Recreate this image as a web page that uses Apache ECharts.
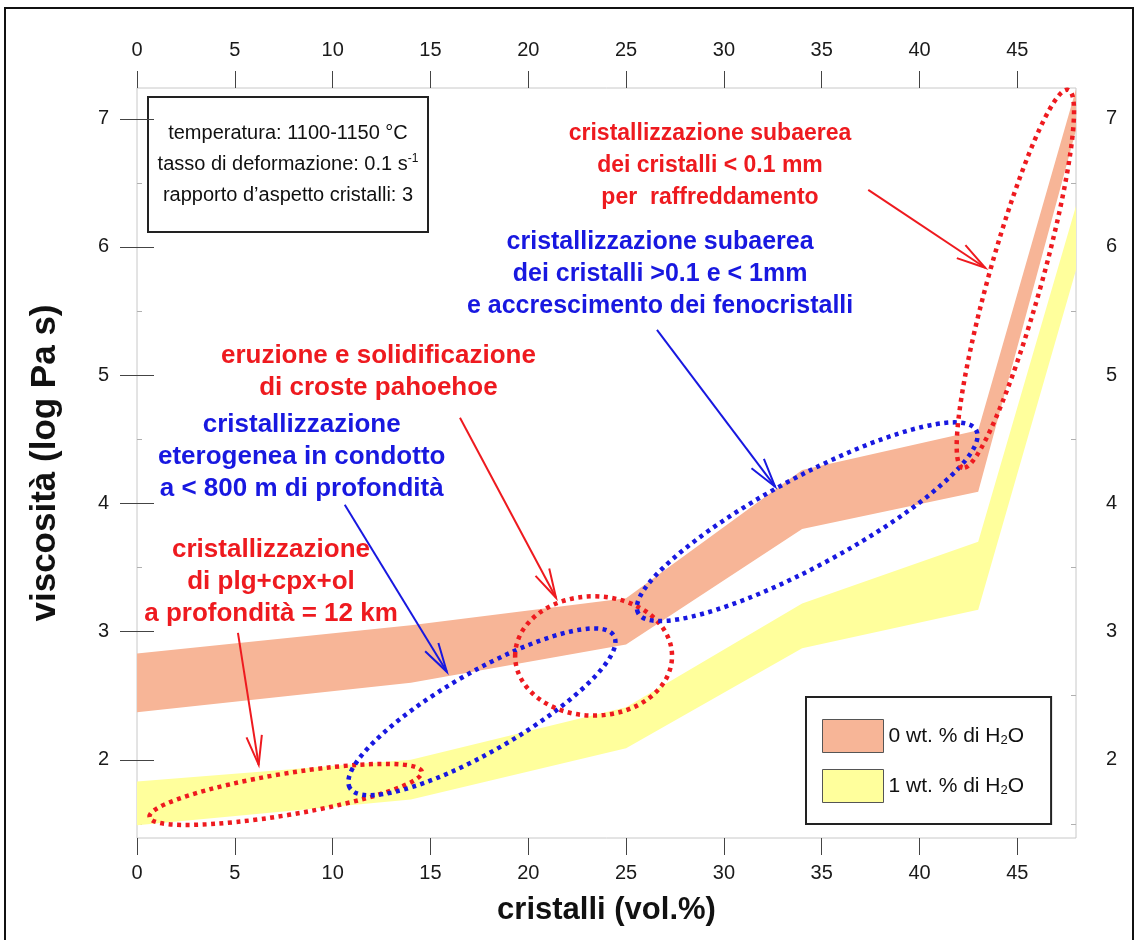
<!DOCTYPE html>
<html>
<head>
<meta charset="utf-8">
<script src="https://cdn.jsdelivr.net/npm/echarts@6/dist/echarts.min.js"></script>
<style>
  html, body { margin: 0; padding: 0; background: #ffffff; }
  #chart { width: 1140px; height: 940px; }
</style>
</head>
<body>
<div id="chart"></div>
<script>
// Axis ticks
const xTicks = [0, 5, 10, 15, 20, 25, 30, 35, 40, 45];
const yTicks = [2, 3, 4, 5, 6, 7];
const yMinorTicks = [1.5, 2.5, 3.5, 4.5, 5.5, 6.5];

// Viscosity bands (log Pa s) against crystal content (vol.%)
const crystalVol = [0, 14, 25, 34, 43, 48];
const dryUpper = [2.83, 3.05, 3.26, 4.26, 4.57, 7.23];
const dryLower = [2.37, 2.60, 2.90, 3.80, 4.09, 6.91];
const wetUpper = [1.83, 2.00, 2.41, 3.22, 3.70, 6.32];
const wetLower = [1.49, 1.69, 2.09, 2.87, 3.17, 5.82];
const bandNames = ['0 wt. % di H2O', '1 wt. % di H2O'];

// Dotted fields: centre, end of the long semi-axis, short/long axis ratio
const fieldCenters = [[7.6, 1.73], [17.63, 2.374], [23.34, 2.81], [34.26, 3.857], [44.9, 5.752]];
const fieldAxisEnds = [[14.56, 1.907], [24.38, 2.967], [27.35, 2.81], [42.9, 4.57], [47.6, 7.226]];
const fieldRatios = [0.15, 0.26, 0.76, 0.23, 0.135];
const fieldKinds = ['r', 'b', 'r', 'b', 'r'];

// Pointer arrows: start and tip
const arrowStarts = [[5.16, 2.99], [10.62, 3.989], [16.51, 4.668], [26.58, 5.354], [37.38, 6.446]];
const arrowTips = [[6.22, 1.961], [15.84, 2.686], [21.42, 3.264], [32.62, 4.13], [43.36, 5.838]];
const arrowKinds = ['r', 'b', 'r', 'b', 'r'];

// Process notes
const noteAnchors = [[29.29, 6.637], [26.74, 5.791], [12.34, 5.027], [8.42, 4.36], [6.85, 3.392]];
const noteTexts = [
  'cristallizzazione subaerea\ndei cristalli < 0.1 mm\nper  raffreddamento',
  'cristallizzazione subaerea\ndei cristalli >0.1 e < 1mm\ne accrescimento dei fenocristalli',
  'eruzione e solidificazione\ndi croste pahoehoe',
  'cristallizzazione\neterogenea in condotto\na < 800 m di profondità',
  'cristallizzazione\ndi plg+cpx+ol\na profondità = 12 km'
];
const noteKinds = ['r', 'b', 'r', 'b', 'r'];
const noteFontSizes = [23, 25, 26, 26, 26];

const COLORS = { r: '#ee1a1f', b: '#1818e0' };
const SALMON = '#f7b597';
const YELLOW = '#ffff9c';
const FONT = '"Liberation Sans", Arial, Helvetica, sans-serif';

const chart = echarts.init(document.getElementById('chart'), null, { renderer: 'canvas' });

function bandRenderer(upper, lower, color) {
  return function (params, api) {
    const top = crystalVol.map((x, i) => api.coord([x, upper[i]]));
    const bottom = crystalVol.map((x, i) => api.coord([x, lower[i]])).reverse();
    return { type: 'polygon', shape: { points: top.concat(bottom) }, style: { fill: color } };
  };
}

function renderField(params, api) {
  const i = params.dataIndex;
  const c = api.coord(fieldCenters[i]);
  const e = api.coord(fieldAxisEnds[i]);
  const dx = e[0] - c[0], dy = e[1] - c[1];
  const rx = Math.hypot(dx, dy);
  return {
    type: 'ellipse',
    x: c[0], y: c[1],
    rotation: -Math.atan2(dy, dx),
    shape: { cx: 0, cy: 0, rx: rx, ry: rx * fieldRatios[i] },
    style: { fill: null, stroke: COLORS[fieldKinds[i]], lineWidth: 4.5, lineDash: [4, 4.5] }
  };
}

function renderArrow(params, api) {
  const i = params.dataIndex;
  const s = api.coord(arrowStarts[i]);
  const t = api.coord(arrowTips[i]);
  const ang = Math.atan2(t[1] - s[1], t[0] - s[0]);
  const len = 30, half = 15 * Math.PI / 180;
  const w1 = [t[0] - len * Math.cos(ang - half), t[1] - len * Math.sin(ang - half)];
  const w2 = [t[0] - len * Math.cos(ang + half), t[1] - len * Math.sin(ang + half)];
  const stroke = COLORS[arrowKinds[i]];
  return {
    type: 'group',
    children: [
      { type: 'line', shape: { x1: s[0], y1: s[1], x2: t[0], y2: t[1] }, style: { stroke: stroke, lineWidth: 2 } },
      { type: 'polyline', shape: { points: [w1, t, w2] }, style: { stroke: stroke, lineWidth: 2, fill: null } }
    ]
  };
}

function renderNote(params, api) {
  const i = params.dataIndex;
  const p = api.coord(noteAnchors[i]);
  return {
    type: 'text',
    x: p[0], y: p[1],
    style: {
      text: noteTexts[i],
      fill: COLORS[noteKinds[i]],
      font: 'bold ' + noteFontSizes[i] + 'px ' + FONT,
      align: 'center',
      verticalAlign: 'middle',
      lineHeight: 32
    }
  };
}

const tickLabelStyle = { fontSize: 20, color: '#1a1a1a', fontFamily: FONT };

function xAxisDef(position, margin, withName) {
  const a = {
    type: 'value', position: position, min: 0, max: 48,
    axisLine: { show: false },
    splitLine: { show: false },
    axisTick: { show: true, customValues: xTicks, length: 17, lineStyle: { color: '#444', width: 1 } },
    axisLabel: Object.assign({ customValues: xTicks, margin: margin }, tickLabelStyle)
  };
  if (withName) {
    a.name = 'cristalli (vol.%)';
    a.nameLocation = 'middle';
    a.nameGap = 57;
    a.nameTextStyle = { fontSize: 31, fontWeight: 'bold', color: '#111', fontFamily: FONT };
  }
  return a;
}

function yAxisDef(position, margin, withName) {
  const a = {
    type: 'value', position: position, min: 1.39, max: 7.24,
    axisLine: { show: false },
    splitLine: { show: false },
    axisTick: { show: true, customValues: yTicks, length: 17, lineStyle: { color: '#444', width: 1 } },
    axisLabel: Object.assign({ customValues: yTicks, margin: margin }, tickLabelStyle)
  };
  if (withName) {
    a.name = 'viscosità (log Pa s)';
    a.nameLocation = 'middle';
    a.nameGap = 74;
    a.nameRotate = 90;
    a.nameTextStyle = { fontSize: 35, fontWeight: 'bold', color: '#111', fontFamily: FONT };
  }
  return a;
}

function yMinorDef(position) {
  return {
    type: 'value', position: position, min: 1.39, max: 7.24,
    axisLine: { show: false },
    splitLine: { show: false },
    axisLabel: { show: false },
    axisTick: { show: true, inside: true, customValues: yMinorTicks, length: 5, lineStyle: { color: '#b0b0b0', width: 1 } }
  };
}

const legendRich = {
  n: { fontSize: 21, color: '#111', fontFamily: FONT },
  s: { fontSize: 13, color: '#111', fontFamily: FONT, padding: [8, 0, 0, 0] }
};

const option = {
  animation: false,
  backgroundColor: '#ffffff',
  grid: {
    left: 137, right: 64, top: 88, bottom: 102,
    show: true, borderColor: '#c8c8c8', borderWidth: 1,
    outerBoundsMode: 'none', containLabel: false
  },
  xAxis: [xAxisDef('bottom', 25, true), xAxisDef('top', 28, false)],
  yAxis: [yAxisDef('left', 28, true), yAxisDef('right', 30, false), yMinorDef('left'), yMinorDef('right')],
  legend: {
    orient: 'vertical',
    left: 806, top: 697,
    padding: [22, 27, 21, 16],
    itemWidth: 61, itemHeight: 33, itemGap: 16,
    icon: 'rect',
    borderColor: '#222', borderWidth: 2, backgroundColor: '#ffffff',
    itemStyle: { borderColor: '#555', borderWidth: 1 },
    selectedMode: false,
    data: bandNames,
    formatter: function (name) {
      const parts = name.split('H2O');
      return '{n|' + parts[0] + 'H}{s|2}{n|O}';
    },
    textStyle: { rich: legendRich }
  },
  graphic: [
    {
      type: 'rect', silent: true, z: 100,
      shape: { x: 5, y: 8, width: 1128, height: 960 },
      style: { fill: null, stroke: '#111', lineWidth: 2 }
    },
    {
      type: 'group', z: 50,
      children: [
        { type: 'rect', shape: { x: 148, y: 97, width: 280, height: 135 }, style: { fill: '#fff', stroke: '#222', lineWidth: 2 } },
        { type: 'text', x: 288, y: 133, style: { text: 'temperatura: 1100-1150 °C', font: '20px ' + FONT, fill: '#111', align: 'center', verticalAlign: 'middle' } },
        { type: 'text', x: 288, y: 164, style: {
            text: '{n|tasso di deformazione: 0.1 s}{p|-1}', align: 'center', verticalAlign: 'middle',
            rich: {
              n: { fontSize: 20, fontFamily: FONT, fill: '#111', color: '#111' },
              p: { fontSize: 12, fontFamily: FONT, fill: '#111', color: '#111', padding: [0, 0, 10, 0] }
            } } },
        { type: 'text', x: 288, y: 195, style: { text: 'rapporto d\u2019aspetto cristalli: 3', font: '20px ' + FONT, fill: '#111', align: 'center', verticalAlign: 'middle' } }
      ]
    }
  ],
  series: [
    {
      name: bandNames[0], type: 'custom', coordinateSystem: 'cartesian2d', z: 2, clip: true,
      itemStyle: { color: SALMON },
      renderItem: bandRenderer(dryUpper, dryLower, SALMON),
      data: [[crystalVol[0], dryUpper[0]]]
    },
    {
      name: bandNames[1], type: 'custom', coordinateSystem: 'cartesian2d', z: 2, clip: true,
      itemStyle: { color: YELLOW },
      renderItem: bandRenderer(wetUpper, wetLower, YELLOW),
      data: [[crystalVol[0], wetUpper[0]]]
    },
    {
      name: 'campi', type: 'custom', coordinateSystem: 'cartesian2d', z: 5, clip: false,
      renderItem: renderField,
      data: fieldCenters.map(c => [c[0], c[1]])
    },
    {
      name: 'frecce', type: 'custom', coordinateSystem: 'cartesian2d', z: 6, clip: false,
      renderItem: renderArrow,
      data: arrowTips.map(c => [c[0], c[1]])
    },
    {
      name: 'note', type: 'custom', coordinateSystem: 'cartesian2d', z: 7, clip: false,
      renderItem: renderNote,
      data: noteAnchors.map(c => [c[0], c[1]])
    }
  ]
};

chart.setOption(option);
</script>
</body>
</html>
